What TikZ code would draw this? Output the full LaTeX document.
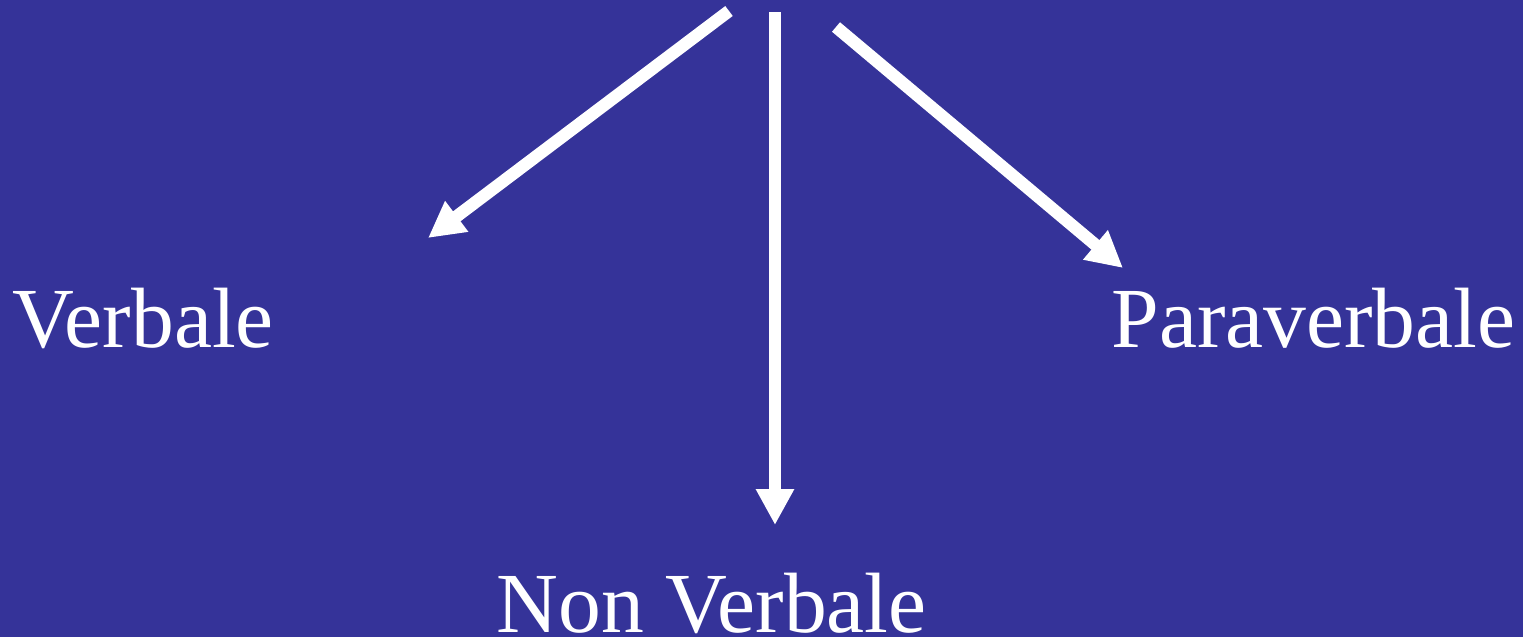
\documentclass[tikz,border=0pt]{standalone}
\usepackage{fontspec}
\setmainfont{Liberation Serif}
\usetikzlibrary{arrows.meta}
\definecolor{slideblue}{RGB}{53,51,153}

\begin{document}
\begin{tikzpicture}[x=0.5pt,y=-0.5pt,line join=miter]
  \tikzset{branch/.style={draw=white,line width=6.2pt,-{Triangle[length=18pt,width=18pt]}},
    term/.style={text=white,inner sep=0pt,anchor=base west,font=\fontsize{42.8}{48}\selectfont}}

  \fill[slideblue] (0,0) rectangle (1523,637);
  \path[use as bounding box] (0,0) rectangle (1523,637);

  \coordinate (srcL) at (729,11);
  \coordinate (srcM) at (775,12);
  \coordinate (srcR) at (836,27);
  \coordinate (tipL) at (428,238);
  \coordinate (tipM) at (775,525);
  \coordinate (tipR) at (1123,268);

  \node[term] (verbale) at (12,347) {Verbale};
  \node[term] (paraverbale) at (1111,347) {Paraverbale};
  \node[term] (nonverbale) at (496,632) {Non Verbale};

  \draw[branch] (srcL) -- (tipL);
  \draw[branch] (srcM) -- (tipM);
  \draw[branch] (srcR) -- (tipR);
\end{tikzpicture}
\end{document}
